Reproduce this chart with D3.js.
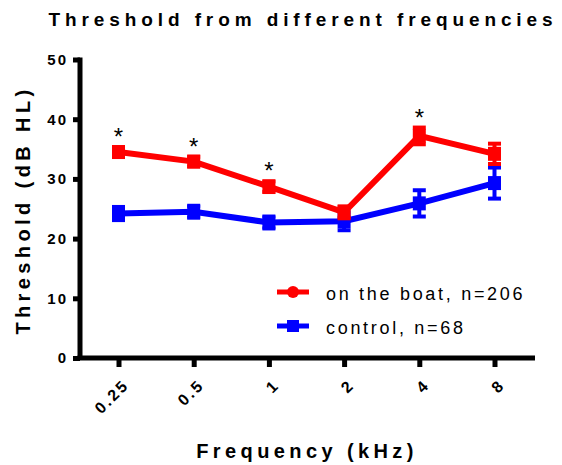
<!DOCTYPE html>
<html><head><meta charset="utf-8">
<script src="https://cdn.jsdelivr.net/npm/d3@7"></script>
<style>body{margin:0;background:#fff}svg{display:block}</style>
</head><body>
<script>
const frequencies = ["0.25","0.5","1","2","4","8"];
const boatMean = [34.5, 32.9, 28.7, 24.4, 37.2, 34.2];
const boatErr  = [0.8, 0.8, 0.9, 1.0, 1.4, 1.7];
const ctrlMean = [24.2, 24.5, 22.7, 22.9, 25.9, 29.3];
const ctrlErr  = [1.1, 1.0, 1.0, 1.5, 2.2, 2.6];
const significant = [true, true, true, false, true, false];
const yTicks = [0,10,20,30,40,50];
const seriesNames = ["on the boat, n=206", "control, n=68"];

const W=562,H=465;
const FONT="Liberation Sans, Arial, sans-serif";
const svg=d3.select("body").append("svg").attr("width",W).attr("height",H);
const x=d3.scalePoint().domain(frequencies).range([118.5,494.5]);
const y=d3.scaleLinear().domain([0,50]).range([358,59.5]);

// title
svg.append("text").attr("x",303).attr("y",26).attr("text-anchor","middle")
  .attr("font-family",FONT).attr("font-weight","bold")
  .attr("font-size",19).attr("letter-spacing",4.9).text("Threshold from different frequencies");

// y axis
const ya=svg.append("g").attr("transform","translate(80,0)")
  .call(d3.axisLeft(y).tickValues(yTicks).tickSize(7).tickPadding(5));
ya.select(".domain").attr("stroke","#000").attr("stroke-width",5).attr("d",`M0,${y(50)-2}V${y(0)+2}`);
ya.selectAll(".tick line").attr("stroke","#000").attr("stroke-width",5);
ya.selectAll(".tick text").attr("font-family",FONT)
  .attr("font-weight","bold").attr("font-size",15).attr("letter-spacing",2).attr("fill","#000");

// x axis
const xa=svg.append("g").attr("transform",`translate(0,${y(0)})`)
  .call(d3.axisBottom(x).tickSize(9).tickPadding(6));
xa.select(".domain").attr("stroke","#000").attr("stroke-width",5).attr("d","M77.5,0H535");
xa.selectAll(".tick line").attr("stroke","#000").attr("stroke-width",5);
xa.selectAll(".tick text").attr("font-family",FONT)
  .attr("font-weight","bold").attr("font-size",16).attr("letter-spacing",2.4).attr("fill","#000")
  .attr("text-anchor","end").attr("dy","0.3em").attr("transform","translate(-3,14) rotate(-45)");

// axis titles
svg.append("text").attr("transform","translate(30,210) rotate(-90)").attr("text-anchor","middle")
  .attr("font-family",FONT).attr("font-weight","bold")
  .attr("font-size",20).attr("letter-spacing",4.4).text("Threshold (dB HL)");
svg.append("text").attr("x",307).attr("y",458).attr("text-anchor","middle")
  .attr("font-family",FONT).attr("font-weight","bold")
  .attr("font-size",20).attr("letter-spacing",4.4).text("Frequency (kHz)");

const series=[
  {name:seriesNames[1],mean:ctrlMean,err:ctrlErr,color:"#0000ff"},
  {name:seriesNames[0],mean:boatMean,err:boatErr,color:"#ff0000"}
];
const line=d3.line().x((d,i)=>x(frequencies[i])).y(d=>y(d));
series.forEach(s=>{
  const g=svg.append("g");
  g.append("path").attr("d",line(s.mean)).attr("fill","none").attr("stroke",s.color).attr("stroke-width",6);
  s.mean.forEach((m,i)=>{
    const cx=x(frequencies[i]);
    g.append("line").attr("x1",cx).attr("x2",cx).attr("y1",y(m+s.err[i])).attr("y2",y(m-s.err[i]))
      .attr("stroke",s.color).attr("stroke-width",4);
    [m+s.err[i],m-s.err[i]].forEach(v=>g.append("line").attr("x1",cx-6.5).attr("x2",cx+6.5)
      .attr("y1",y(v)).attr("y2",y(v)).attr("stroke",s.color).attr("stroke-width",4));
    g.append("rect").attr("x",cx-6.5).attr("y",y(m)-7).attr("width",13).attr("height",14).attr("fill",s.color);
  });
});

// significance asterisks
boatMean.forEach((m,i)=>{
  if(!significant[i])return;
  svg.append("text").attr("x",x(frequencies[i])).attr("y",y(m+Math.max(boatErr[i],0.8))-2)
    .attr("text-anchor","middle").attr("font-family",FONT)
    .attr("font-size",24).attr("fill","#000").text("*");
});

// legend
const leg=[{name:seriesNames[0],color:"#ff0000",shape:"circle",y:292},
           {name:seriesNames[1],color:"#0000ff",shape:"square",y:326}];
leg.forEach(l=>{
  svg.append("line").attr("x1",277).attr("x2",309).attr("y1",l.y).attr("y2",l.y)
    .attr("stroke",l.color).attr("stroke-width",5);
  if(l.shape==="circle") svg.append("circle").attr("cx",293).attr("cy",l.y).attr("r",6).attr("fill",l.color);
  else svg.append("rect").attr("x",287).attr("y",l.y-6).attr("width",12).attr("height",12).attr("fill",l.color);
  svg.append("text").attr("x",326).attr("y",l.y+7.5).attr("font-family",FONT)
    .attr("font-size",18).attr("letter-spacing",2.7).attr("fill","#000").text(l.name);
});
</script>
</body></html>
